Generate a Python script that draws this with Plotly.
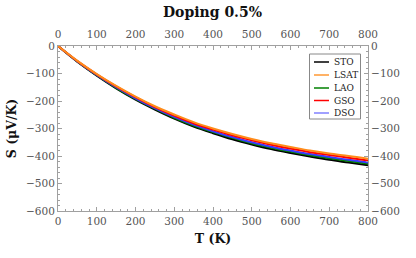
import plotly.graph_objects as go

T = [0, 50, 100, 150, 200, 250, 300, 350, 400, 450, 500, 550, 600, 650, 700, 750, 800]
S_STO = [0, -57, -108, -154, -195, -231, -264, -293, -317, -339, -358, -375, -389, -402, -414, -424, -434]
S_LSAT = [0, -54, -102, -145, -184, -219, -249, -277, -300, -320, -338, -354, -367, -380, -391, -400, -410]
S_LAO = [0, -57, -106, -152, -192, -228, -261, -289, -313, -334, -354, -370, -384, -397, -408, -418, -428]
S_GSO = [0, -55, -103, -147, -186, -222, -253, -281, -304, -325, -343, -359, -373, -386, -396, -406, -416]
S_DSO = [0, -56, -105, -150, -190, -226, -258, -286, -310, -331, -350, -366, -380, -393, -404, -414, -424]

names = ["STO", "LSAT", "LAO", "GSO", "DSO"]
series = [S_STO, S_LSAT, S_LAO, S_GSO, S_DSO]
colors = ["#000000", "#ff8c1a", "#008000", "#ff0000", "#3a3aff"]
legend_colors = ["#000000", "#ff9933", "#008000", "#ff0000", "#8080ff"]

FONT = "DejaVu Serif"
AX = "#a0a0a0"
TXT = "#555555"

W, H = 416, 258
L, R, TOP, BOT = 58, W - 368, 46, H - 211

fig = go.Figure()
for i in [0, 2, 4, 3, 1]:
    fig.add_trace(go.Scatter(x=T, y=series[i], mode="lines", name=names[i],
                             line=dict(color=colors[i], width=2, shape="spline"),
                             showlegend=False))
fig.add_trace(go.Scatter(x=[T[0]], y=[S_STO[0]], xaxis="x2", yaxis="y2", mode="markers",
                         marker=dict(opacity=0), showlegend=False, hoverinfo="skip"))

axis_common = dict(showgrid=False, zeroline=False, showline=True, linecolor=AX, linewidth=1,
                   ticks="inside", ticklen=4, tickcolor=AX, tickwidth=1, automargin=False,
                   tickfont=dict(family=FONT, size=10.5, color=TXT))
minor = dict(dtick=20, ticklen=2, ticks="inside", tickcolor=AX)
fig.update_layout(
    width=W, height=H,
    margin=dict(l=L, r=R, t=TOP, b=BOT, autoexpand=False),
    paper_bgcolor="white", plot_bgcolor="white",
    title=dict(text="<b>Doping 0.5%</b>", x=212.5 / W, xanchor="center",
               y=1 - 12 / H, yanchor="middle", yref="container", automargin=False,
               font=dict(family=FONT, size=14, color="#111111")),
    xaxis=dict(range=[0, 800], dtick=100, tick0=0, mirror=True, minor=minor,
               title=dict(text="<b>T (K)</b>", font=dict(family=FONT, size=12.5, color="#111111"), standoff=8),
               **axis_common),
    yaxis=dict(range=[-600, 0], dtick=100, tick0=0, mirror=True, minor=minor,
               title=dict(text="<b>S (μV/K)</b>", font=dict(family=FONT, size=12.5, color="#111111"), standoff=6),
               **axis_common),
    xaxis2=dict(range=[0, 800], dtick=100, tick0=0, overlaying="x", side="top", anchor="y2", minor=minor,
                ticklabelstandoff=3, **axis_common),
    yaxis2=dict(range=[-600, 0], dtick=100, tick0=0, overlaying="y", side="right", anchor="x2", minor=minor,
                **axis_common),
)

px0, px1 = 58, 368
py0, py1 = 46, 211
def xp(px):
    return (px - px0) / (px1 - px0)
def yp(py):
    return 1 - (py - py0) / (py1 - py0)

fig.add_shape(type="rect", xref="paper", yref="paper", x0=xp(309.5), x1=xp(360.5), y0=yp(119), y1=yp(54),
              line=dict(color="#888888", width=1), fillcolor="white", layer="above")
ys = [62, 75, 88, 100.5, 113]
for i, name in enumerate(names):
    fig.add_shape(type="line", xref="paper", yref="paper", x0=xp(314), x1=xp(329), y0=yp(ys[i]), y1=yp(ys[i]),
                  line=dict(color=legend_colors[i], width=1.5), layer="above")
    fig.add_annotation(xref="paper", yref="paper", x=xp(331.5), y=yp(ys[i]), text=name, showarrow=False,
                       xanchor="left", yanchor="middle", font=dict(family=FONT, size=9, color="#222222"))

fig.write_html("out.html", config={"displayModeBar": False},
               post_script="document.body.style.margin='0px';")
